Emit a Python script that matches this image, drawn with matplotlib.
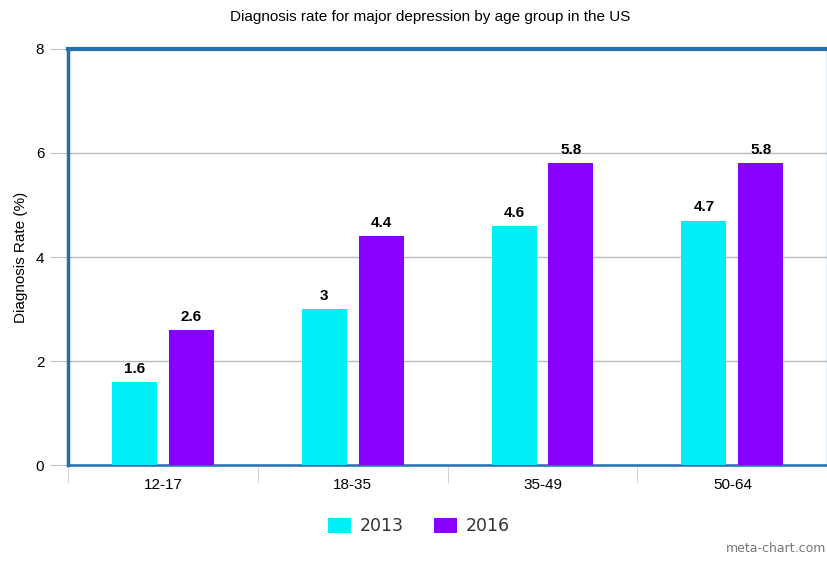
import matplotlib
matplotlib.use("Agg")
from matplotlib import pyplot as plt
import numpy

plt.rcParams["font.family"] = ["Liberation Sans", "DejaVu Sans"]

groups = ["12-17", "18-35", "35-49", "50-64"]
rate_2013 = [1.6, 3, 4.6, 4.7]
rate_2016 = [2.6, 4.4, 5.8, 5.8]
labels_2013 = ["1.6", "3", "4.6", "4.7"]
labels_2016 = ["2.6", "4.4", "5.8", "5.8"]

c2013 = "#00EEF6"
c2016 = "#8800FF"
axblue = "#2370AE"

fig = plt.figure(figsize=(8.28, 5.63), dpi=100)
ax = fig.add_axes([0.0821, 0.174, 0.917, 0.739])

x = numpy.arange(len(groups))
width = 0.237
off = 0.1495
bar1 = ax.bar(x - off, rate_2013, width, color=c2013, zorder=3)
bar2 = ax.bar(x + off, rate_2016, width, color=c2016, zorder=3)

for b, t in zip(bar1, labels_2013):
    ax.text(b.get_x() + b.get_width() / 2, b.get_height() + 0.12, t,
            ha="center", va="bottom", fontsize=11, fontweight="bold")
for b, t in zip(bar2, labels_2016):
    ax.text(b.get_x() + b.get_width() / 2, b.get_height() + 0.12, t,
            ha="center", va="bottom", fontsize=11, fontweight="bold")

ax.set_xlim(-0.5, 3.5)
ax.set_ylim(0, 8)
ax.set_yticks([0, 2, 4, 6, 8])
ax.yaxis.grid(True, color="#BBBBBB", linewidth=1, zorder=0)
ax.tick_params(axis="y", length=13, color="#BBBBBB", labelsize=11, pad=4)

ax.set_xticks(x)
ax.set_xticklabels(groups, fontsize=11)
ax.set_xticks(numpy.arange(5) - 0.5, minor=True)
ax.tick_params(axis="x", which="major", length=0, pad=9)
ax.tick_params(axis="x", which="minor", length=13, color="#CCCCCC")

ax.spines["left"].set_color(axblue)
ax.spines["left"].set_linewidth(2.5)
ax.spines["top"].set_color(axblue)
ax.spines["top"].set_linewidth(3)
ax.spines["bottom"].set_color(axblue)
ax.spines["bottom"].set_linewidth(1.8)
ax.spines["right"].set_color("#7FB3D5")
ax.spines["right"].set_linewidth(1)

ax.set_ylabel("Diagnosis Rate (%)", fontsize=11, labelpad=6)
fig.text(0.52, 0.97, "Diagnosis rate for major depression by age group in the US",
         ha="center", va="center", fontsize=11)

fig.legend((bar1[0], bar2[0]), ("2013", "2016"), loc="center",
           bbox_to_anchor=(0.506, 0.065), ncol=2, frameon=False,
           prop={"family": "DejaVu Sans", "size": 12.5},
           handlelength=1.35, handleheight=0.9, handletextpad=0.5,
           columnspacing=1.7, labelcolor="#333333")
fig.text(0.998, 0.015, "meta-chart.com", ha="right", va="bottom",
         fontsize=9, color="#777777", family="DejaVu Sans")

fig.savefig("out.png", dpi=100)
